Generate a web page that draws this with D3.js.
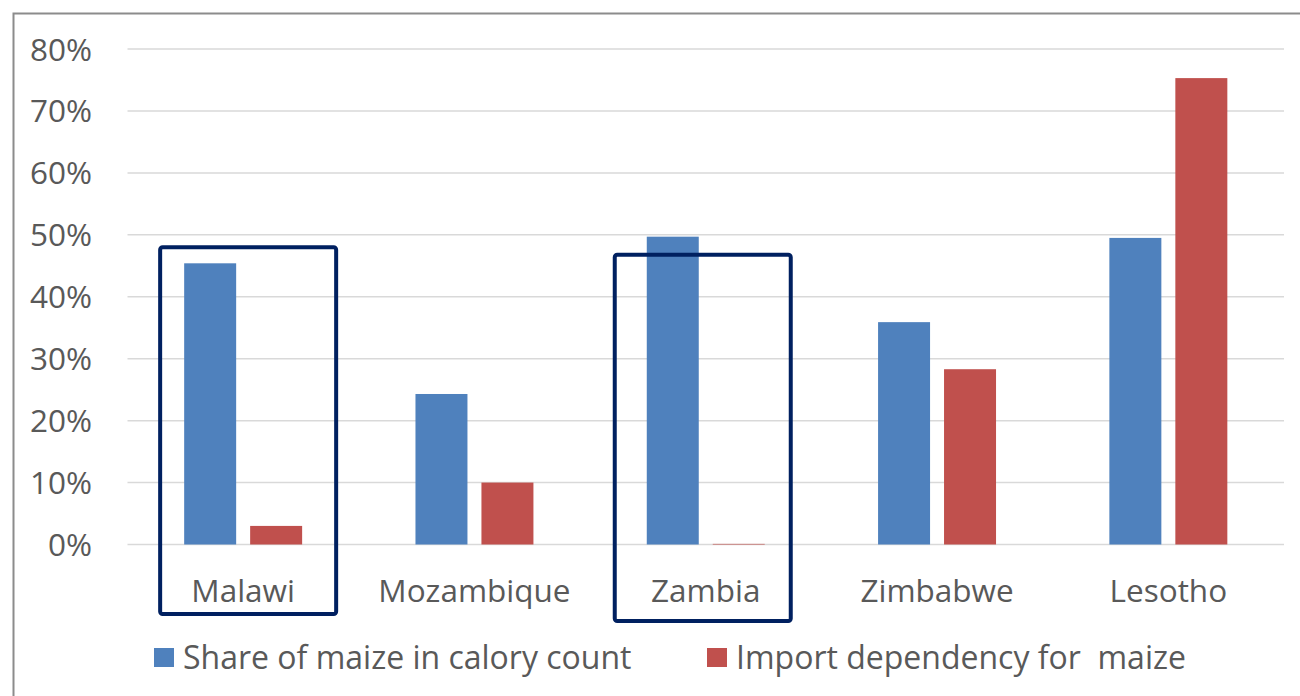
<!DOCTYPE html>
<html>
<head>
<meta charset="utf-8">
<script src="https://cdn.jsdelivr.net/npm/d3@7"></script>
<style>
  body { margin: 0; background: #fff; }
  svg text { font-family: "Open Sans", sans-serif; fill: #595959; }
</style>
</head>
<body>
<div id="chart"></div>
<script>
// data
const countries = ["Malawi", "Mozambique", "Zambia", "Zimbabwe", "Lesotho"];
const series = ["Share of maize in calory count", "Import dependency for  maize"];
const shareMaize = [0.454, 0.243, 0.497, 0.359, 0.495];
const importDep = [0.030, 0.100, 0.001, 0.283, 0.753];
const yTicks = [0, 0.1, 0.2, 0.3, 0.4, 0.5, 0.6, 0.7, 0.8];
const colors = ["#4f81bd", "#c0504d"];
// countries that get an outline box
const highlighted = ["Malawi", "Zambia"];

const width = 1300,
    height = 696;

const svg = d3.select("#chart")
  .append("svg")
    .attr("width", width)
    .attr("height", height);

// outer chart frame (only top/left are visible)
svg.append("rect")
    .attr("x", 13.5)
    .attr("y", 13.5)
    .attr("width", width)
    .attr("height", height)
    .attr("fill", "none")
    .attr("stroke", "#8c8c8c")
    .attr("stroke-width", 2);

const plotLeft = 127.5, plotRight = 1284;

const y = d3.scaleLinear()
    .domain([0, 0.8])
    .range([544.5, 49]);

const x0 = d3.scaleBand()
    .domain(countries)
    .range([plotLeft, plotRight])
    .paddingInner(0.49)
    .paddingOuter(0.245);

const x1 = d3.scaleBand()
    .domain(series)
    .range([0, x0.bandwidth()])
    .paddingInner(0.212);

// gridlines
svg.append("g")
  .selectAll("line")
  .data(yTicks)
  .join("line")
    .attr("x1", plotLeft)
    .attr("x2", plotRight)
    .attr("y1", d => y(d))
    .attr("y2", d => y(d))
    .attr("stroke", "#d9d9d9")
    .attr("stroke-width", 1.5);

// y axis labels
const yAxis = d3.axisLeft(y)
    .tickValues(yTicks)
    .tickFormat(d3.format(".0%"))
    .tickSize(0)
    .tickPadding(0);

svg.append("g")
    .attr("transform", "translate(92,0)")
    .call(yAxis)
    .call(g => g.select(".domain").remove())
    .call(g => g.selectAll("text")
        .attr("font-size", "31.5px")
        .attr("dy", "0.35em"));

// bars
const rows = countries.map((c, i) => ({country: c, values: [shareMaize[i], importDep[i]]}));

svg.append("g")
  .selectAll("g")
  .data(rows)
  .join("g")
    .attr("transform", d => `translate(${x0(d.country)},0)`)
  .selectAll("rect")
  .data(d => d.values.map((v, j) => ({key: series[j], value: v, j: j})))
  .join("rect")
    .attr("x", d => x1(d.key))
    .attr("width", x1.bandwidth())
    .attr("y", d => y(d.value))
    .attr("height", d => y(0) - y(d.value))
    .attr("fill", d => colors[d.j]);

// category labels
const xAxis = d3.axisBottom(x0).tickSize(0).tickPadding(0);
svg.append("g")
    .attr("transform", `translate(0,${y(0)})`)
    .call(xAxis)
    .call(g => g.select(".domain").remove())
    .call(g => g.selectAll("text")
        .attr("font-size", "31.5px")
        .attr("dy", "0")
        .attr("y", 57));

// highlight boxes
const boxW = 176;
const boxTop = [0.48, 0.468];
const boxShift = [5, -3];
svg.append("g")
  .selectAll("rect")
  .data(highlighted)
  .join("rect")
    .attr("x", (d, i) => x0(d) + x0.bandwidth() / 2 - boxW / 2 + boxShift[i])
    .attr("y", (d, i) => y(boxTop[i]))
    .attr("width", boxW)
    .attr("height", (d, i) => 614 + (i * 7) - y(boxTop[i]))
    .attr("rx", 2.5)
    .attr("fill", "none")
    .attr("stroke", "#002060")
    .attr("stroke-width", 4);

// legend
const legendX = [154, 707];
const legend = svg.append("g")
  .selectAll("g")
  .data(series)
  .join("g")
    .attr("transform", (d, i) => `translate(${legendX[i]},648)`);

legend.append("rect")
    .attr("width", 20)
    .attr("height", 19)
    .attr("fill", (d, i) => colors[i]);

legend.append("text")
    .attr("x", 29)
    .attr("y", 20.5)
    .attr("font-size", "32px")
    .style("white-space", "pre")
    .text(d => d);
</script>
</body>
</html>
